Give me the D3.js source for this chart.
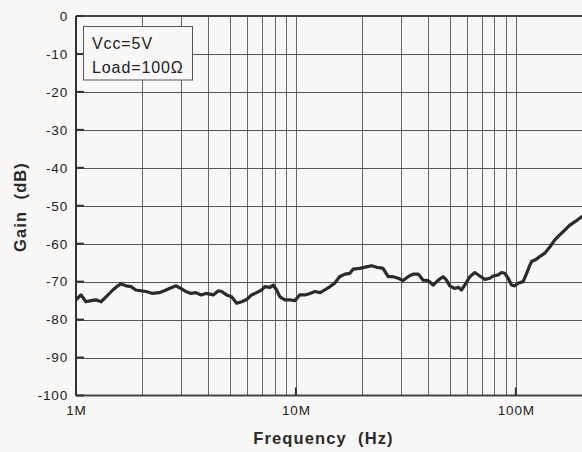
<!DOCTYPE html>
<html><head><meta charset="utf-8">
<script src="https://cdn.jsdelivr.net/npm/d3@7"></script>
<style>html,body{margin:0;padding:0;background:#f9f8f6;}svg{display:block;font-family:"Liberation Sans",Arial,sans-serif;}</style>
</head><body>
<script>
// Frequency in MHz, gain in dB
const freqMHz = [1.00,1.054,1.11,1.17,1.23,1.30,1.37,1.47,1.55,1.60,1.69,1.78,1.87,1.97,2.08,2.23,2.39,2.52,2.66,2.85,3.00,3.16,3.33,3.51,3.70,3.90,4.21,4.44,4.60,4.84,5.10,5.38,5.67,5.97,6.29,6.63,6.99,7.23,7.62,7.89,8.17,8.46,8.91,9.39,9.90,10.4,11.0,11.6,12.2,12.9,13.5,14.3,15.0,15.8,16.7,17.6,18.2,19.5,20.9,22.1,23.3,24.9,26.3,27.7,29.2,30.7,32.4,34.1,36.0,37.9,39.9,42.1,44.4,46.7,48.4,50.1,52.8,54.7,56.6,58.6,61.8,65.1,68.6,72.3,76.2,78.9,83.2,86.1,89.1,92.3,95.6,98.9,102.4,108,112,116,118,124,128.5,135.5,143,150.5,158.5,167,176,189,199.5];
const gainDB = [-74.8,-73.5,-75.3,-75.0,-74.8,-75.3,-74.0,-72.2,-71.1,-70.6,-71.1,-71.3,-72.2,-72.4,-72.6,-73.1,-72.9,-72.4,-71.8,-71.1,-71.8,-72.6,-73.1,-72.9,-73.5,-73.1,-73.5,-72.4,-72.6,-73.5,-74.0,-75.7,-75.3,-74.7,-73.5,-72.9,-72.2,-71.3,-71.5,-70.9,-72.2,-74.0,-74.8,-74.8,-75.0,-73.5,-73.5,-73.1,-72.6,-72.9,-72.2,-71.3,-70.4,-68.7,-68.0,-67.8,-66.7,-66.5,-66.1,-65.8,-66.2,-66.5,-68.7,-68.7,-69.1,-69.7,-68.7,-68.0,-68.0,-69.6,-69.7,-70.9,-69.6,-68.7,-69.6,-71.1,-71.8,-71.5,-72.2,-70.9,-68.7,-67.6,-68.5,-69.4,-69.1,-68.5,-68.2,-67.6,-67.8,-69.1,-70.9,-71.1,-70.4,-70.0,-67.8,-65.6,-64.7,-64.1,-63.4,-62.5,-60.8,-59.0,-57.7,-56.4,-55.1,-53.9,-52.9];
const yTicks = [0,-10,-20,-30,-40,-50,-60,-70,-80,-90,-100];
const xTickVals = [1,10,100];
const xTickLabels = ["1M","10M","100M"];
const legendLines = ["Vcc=5V","Load=100\u03A9"];
const xLabel = "Frequency  (Hz)";
const yLabel = "Gain  (dB)";

const W = 582, H = 452;
const L = 76, T = 16, R = 582, B = 395.5;
const svg = d3.select("body").append("svg").attr("width", W).attr("height", H);
svg.append("rect").attr("width", W).attr("height", H).attr("fill", "#f9f8f6");

const x = d3.scaleLog().domain([1, 200]).range([L, R]);
const y = d3.scaleLinear().domain([-100, 0]).range([B, T]);

svg.append("defs").append("clipPath").attr("id","clip")
  .append("rect").attr("x", L).attr("y", T - 2).attr("width", R - L).attr("height", B - T + 4);

const grid = svg.append("g");
const minor = [];
for (let d = 1; d <= 100; d *= 10) for (let k = 1; k <= 9; k++) { const v = d * k; if (v > 1 && v < 200) minor.push(v); }
grid.selectAll("line.v").data(minor).enter().append("line")
  .attr("x1", d => Math.round(x(d)) + 0.5).attr("x2", d => Math.round(x(d)) + 0.5)
  .attr("y1", T).attr("y2", B).attr("stroke", "#666").attr("stroke-width", 1);
grid.selectAll("line.h").data(yTicks.filter(v => v > -100 && v < 0)).enter().append("line")
  .attr("x1", L).attr("x2", R).attr("y1", d => Math.round(y(d)) + 0.5).attr("y2", d => Math.round(y(d)) + 0.5)
  .attr("stroke", "#555").attr("stroke-width", 1);

// frame
svg.append("line").attr("x1", L).attr("x2", R).attr("y1", T).attr("y2", T).attr("stroke", "#444").attr("stroke-width", 2);
svg.append("line").attr("x1", L).attr("x2", R).attr("y1", B).attr("y2", B).attr("stroke", "#444").attr("stroke-width", 2);
svg.append("line").attr("x1", L).attr("x2", L).attr("y1", T).attr("y2", B).attr("stroke", "#333").attr("stroke-width", 2);

// inward ticks
svg.selectAll("line.yt").data(yTicks).enter().append("line")
  .attr("x1", L).attr("x2", L + 8).attr("y1", d => y(d)).attr("y2", d => y(d))
  .attr("stroke", "#333").attr("stroke-width", 2);
svg.selectAll("line.xt").data(xTickVals).enter().append("line")
  .attr("x1", d => x(d)).attr("x2", d => x(d)).attr("y1", B).attr("y2", B - 8)
  .attr("stroke", "#333").attr("stroke-width", 2);

// tick labels
svg.selectAll("text.yl").data(yTicks).enter().append("text")
  .attr("x", 68).attr("y", d => y(d) + 4.8).attr("text-anchor", "end")
  .attr("font-size", 13.5).attr("letter-spacing", 0.8).attr("fill", "#222").text(d => d);
svg.selectAll("text.xl").data(xTickVals).enter().append("text")
  .attr("x", d => x(d) + 0.5).attr("y", 415).attr("text-anchor", "middle")
  .attr("font-size", 13.5).attr("letter-spacing", 0.8).attr("fill", "#222").text((d, i) => xTickLabels[i]);

// axis titles
svg.append("text").attr("x", 323.5).attr("y", 443.5).attr("text-anchor", "middle")
  .attr("font-size", 16.5).attr("font-weight", "bold").attr("letter-spacing", 1.1).attr("fill", "#2a2a2a")
  .style("white-space", "pre").text(xLabel);
svg.append("text").attr("transform", "translate(26,207) rotate(-90)").attr("text-anchor", "middle")
  .attr("font-size", 16.5).attr("font-weight", "bold").attr("letter-spacing", 1.1).attr("fill", "#2a2a2a")
  .style("white-space", "pre").text(yLabel);

// data line
const line = d3.line().x((d, i) => x(freqMHz[i])).y(d => y(d)).curve(d3.curveLinear);
svg.append("path").datum(gainDB).attr("clip-path", "url(#clip)")
  .attr("d", line).attr("fill", "none").attr("stroke", "#2b2b2b")
  .attr("stroke-width", 3.2).attr("stroke-linejoin", "round").attr("stroke-linecap", "round");

// legend
svg.append("rect").attr("x", 83.5).attr("y", 26.5).attr("width", 109).attr("height", 53.5)
  .attr("fill", "#f9f8f6").attr("stroke", "#555").attr("stroke-width", 1);
svg.selectAll("text.lg").data(legendLines).enter().append("text")
  .attr("x", 92).attr("y", (d, i) => 49 + i * 23.5).attr("font-size", 16).attr("letter-spacing", 0.9)
  .attr("fill", "#222").text(d => d);
</script>
</body></html>
